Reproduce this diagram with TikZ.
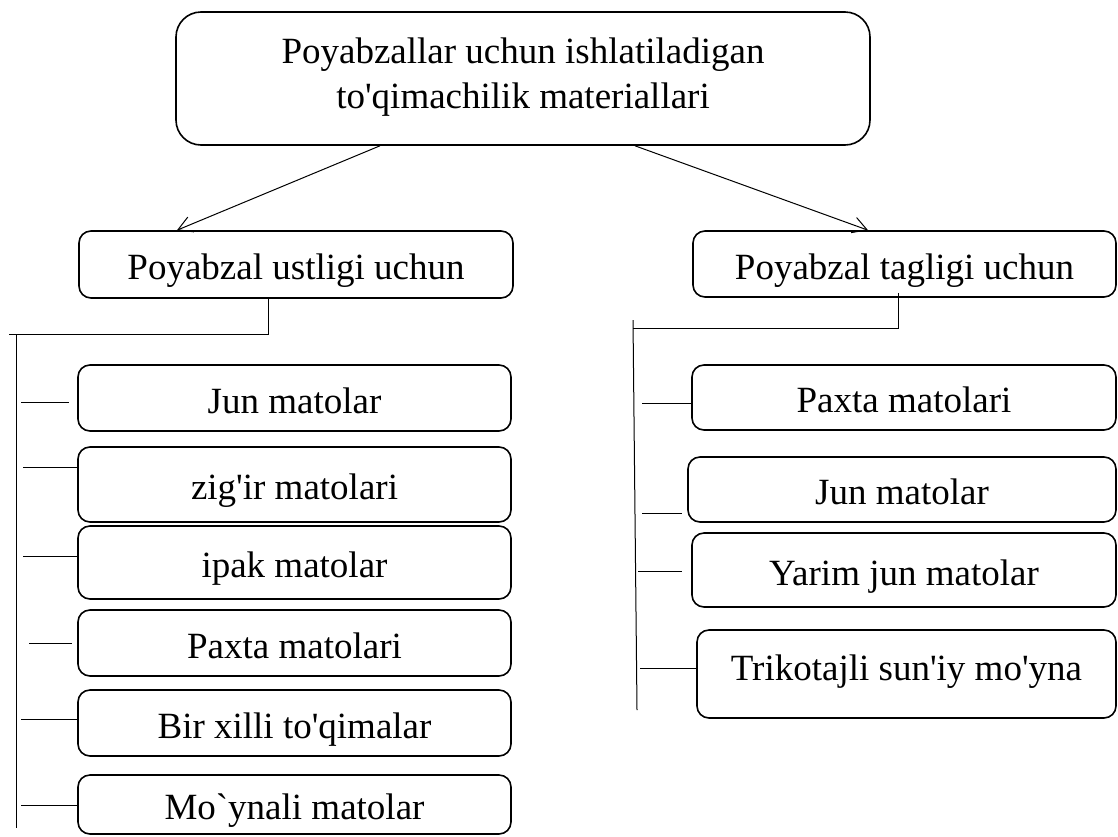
\documentclass[tikz,border=0pt]{standalone}
\usepackage{fontspec}
\setmainfont{Liberation Serif}[Ligatures=TeXOff]
\usetikzlibrary{arrows.meta}
\tikzset{
  box/.style={draw, line width=1.6pt, rounded corners=12pt, inner sep=0pt,
    text height=30pt, text depth=0pt, font=\fontsize{37}{44}\selectfont},
  txt/.style={inner sep=0pt, font=\fontsize{37}{44}\selectfont},
  conn/.style={line width=1pt},
  arr/.style={line width=1pt, -{Straight Barb[length=14pt,width=16pt,line width=1pt]}}
}
\begin{document}
\begin{tikzpicture}[x=1pt,y=-1pt]
\useasboundingbox (0,0) rectangle (1118,836);
% top
\node[box, rounded corners=25pt, minimum width=694pt, minimum height=133pt] (top) at (523,78.5) {};
\node[txt, anchor=base] (t1) at (523,63) {Poyabzallar uchun ishlatiladigan};
\node[txt, anchor=base] (t2) at (523,108) {to'qimachilik materiallari};
% level 2
\node[box, minimum width=434pt, minimum height=67pt] (lu) at (296,264.5) {Poyabzal ustligi uchun};
\node[box, minimum width=423pt, minimum height=66pt] (rt) at (904.5,264) {Poyabzal tagligi uchun};
% left children
\node[box, minimum width=433pt, minimum height=66pt] (l1) at (294.5,398) {Jun matolar};
\node[box, minimum width=433pt, minimum height=75pt] (l2) at (294.5,484.5) {zig'ir matolari};
\node[box, minimum width=433pt, minimum height=73pt] (l3) at (294.5,562.5) {ipak matolar};
\node[box, minimum width=433pt, minimum height=66pt] (l4) at (294.5,643) {Paxta matolari};
\node[box, minimum width=433pt, minimum height=66pt] (l5) at (294.5,723) {Bir xilli to'qimalar};
\node[box, minimum width=433pt, minimum height=59pt] (l6) at (294.5,804.5) {Mo`ynali matolar};
% right children
\node[box, minimum width=424pt, minimum height=65pt] (r1) at (904,397.5) {Paxta matolari};
\node[box, minimum width=428pt, minimum height=65pt] (r2) at (902,489.5) {Jun matolar};
\node[box, minimum width=424pt, minimum height=74pt] (r3) at (904,570) {Yarim jun matolar};
\node[box, minimum width=419pt, minimum height=88pt, text height=12pt] (r4) at (906.5,674) {Trikotajli sun'iy mo'yna};
% arrows
\draw[arr] ([xshift=-143pt]top.south) -- ([xshift=-119pt]lu.north);
\draw[arr] ([xshift=112pt]top.south) -- ([xshift=-36.5pt]rt.north);
% left tree
\coordinate (lh) at (9,334);
\coordinate (lvt) at (16,334);
\coordinate (lvb) at (16,828);
\draw[conn] ([xshift=-28pt]lu.south) |- (lh);
\draw[conn] (lvt) -- (lvb);
\coordinate (c1) at (21,402);
\coordinate (c2) at (23,467);
\coordinate (c3) at (23,556);
\coordinate (c4) at (29,643);
\coordinate (c5) at (21,719);
\coordinate (c6) at (21,805);
\draw[conn, shorten >=8pt] (c1) -- (c1 -| l1.west);
\draw[conn] (c2) -- (c2 -| l2.west);
\draw[conn] (c3) -- (c3 -| l3.west);
\draw[conn, shorten >=5pt] (c4) -- (c4 -| l4.west);
\draw[conn] (c5) -- (c5 -| l5.west);
\draw[conn] (c6) -- (c6 -| l6.west);
% right tree
\coordinate (rh) at (633,328);
\coordinate (rvt) at (633,320);
\coordinate (rvb) at (637,710);
\draw[conn] ([xshift=-6.5pt,yshift=5pt]rt.south) |- (rh);
\draw[conn] (rvt) -- (rvb);
\coordinate (d1) at (642,403);
\coordinate (d2) at (642,513);
\coordinate (d3) at (638,571);
\coordinate (d4) at (640,668);
\draw[conn] (d1) -- (d1 -| r1.west);
\draw[conn, shorten >=5pt] (d2) -- (d2 -| r2.west);
\draw[conn, shorten >=9pt] (d3) -- (d3 -| r3.west);
\draw[conn] (d4) -- (d4 -| r4.west);
\end{tikzpicture}
\end{document}
